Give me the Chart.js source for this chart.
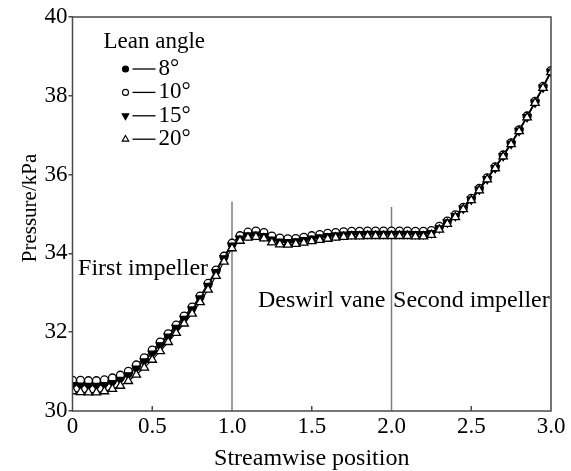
<!DOCTYPE html>
<html>
<head>
<meta charset="utf-8">
<script src="https://cdn.jsdelivr.net/npm/chart.js@4.4.1/dist/chart.umd.min.js"></script>
<style>
  html, body { margin: 0; padding: 0; background: #fff; }
  #wrap { width: 571px; height: 471px; }
</style>
</head>
<body>
<div id="wrap"><canvas id="c" width="571" height="471"></canvas></div>
<script>
// Streamwise positions of the sampled stations
const positions = [
  0.00, 0.05, 0.10, 0.15, 0.20, 0.25, 0.30, 0.35, 0.40, 0.45,
  0.50, 0.55, 0.60, 0.65, 0.70, 0.75, 0.80, 0.85, 0.90, 0.95,
  1.00, 1.05, 1.10, 1.15, 1.20, 1.25, 1.30, 1.35, 1.40, 1.45,
  1.50, 1.55, 1.60, 1.65, 1.70, 1.75, 1.80, 1.85, 1.90, 1.95,
  2.00, 2.05, 2.10, 2.15, 2.20, 2.25, 2.30, 2.35, 2.40, 2.45,
  2.50, 2.55, 2.60, 2.65, 2.70, 2.75, 2.80, 2.85, 2.90, 2.95,
  3.00
];

// Pressure (kPa) for each lean angle
const lean8 = [
  30.70, 30.70, 30.69, 30.69, 30.71, 30.76, 30.84, 30.95, 31.12, 31.30,
  31.50, 31.70, 31.92, 32.14, 32.37, 32.60, 32.88, 33.20, 33.55, 33.90,
  34.22, 34.40, 34.48, 34.50, 34.46, 34.37, 34.32, 34.31, 34.33, 34.36,
  34.40, 34.43, 34.46, 34.48, 34.50, 34.51, 34.51, 34.52, 34.52, 34.52,
  34.52, 34.52, 34.52, 34.51, 34.51, 34.54, 34.66, 34.80, 34.96, 35.15,
  35.38, 35.63, 35.90, 36.18, 36.48, 36.79, 37.12, 37.47, 37.84, 38.22,
  38.62
];
const lean10 = [
  30.78, 30.78, 30.77, 30.77, 30.79, 30.84, 30.91, 31.01, 31.17, 31.35,
  31.55, 31.75, 31.96, 32.18, 32.41, 32.64, 32.92, 33.24, 33.58, 33.93,
  34.26, 34.45, 34.54, 34.57, 34.53, 34.44, 34.39, 34.37, 34.38, 34.41,
  34.45, 34.48, 34.51, 34.53, 34.55, 34.56, 34.56, 34.57, 34.57, 34.57,
  34.57, 34.57, 34.57, 34.56, 34.56, 34.58, 34.69, 34.82, 34.98, 35.17,
  35.40, 35.65, 35.92, 36.20, 36.50, 36.81, 37.14, 37.49, 37.86, 38.24,
  38.64
];
const lean15 = [
  30.66, 30.65, 30.64, 30.64, 30.66, 30.71, 30.79, 30.91, 31.08, 31.26,
  31.46, 31.67, 31.89, 32.11, 32.34, 32.58, 32.86, 33.18, 33.53, 33.88,
  34.20, 34.38, 34.46, 34.48, 34.44, 34.35, 34.30, 34.29, 34.31, 34.34,
  34.38, 34.41, 34.44, 34.46, 34.48, 34.49, 34.49, 34.50, 34.50, 34.50,
  34.50, 34.50, 34.50, 34.49, 34.49, 34.52, 34.64, 34.79, 34.95, 35.14,
  35.37, 35.62, 35.89, 36.17, 36.47, 36.78, 37.11, 37.46, 37.83, 38.21,
  38.61
];
const lean20 = [
  30.50, 30.48, 30.47, 30.47, 30.50, 30.56, 30.64, 30.76, 30.92, 31.10,
  31.30, 31.52, 31.75, 31.98, 32.22, 32.47, 32.76, 33.08, 33.43, 33.79,
  34.13, 34.32, 34.40, 34.42, 34.38, 34.28, 34.23, 34.22, 34.24, 34.27,
  34.31, 34.34, 34.37, 34.40, 34.42, 34.43, 34.43, 34.44, 34.44, 34.44,
  34.44, 34.44, 34.44, 34.43, 34.43, 34.47, 34.60, 34.75, 34.92, 35.12,
  35.35, 35.60, 35.88, 36.16, 36.46, 36.77, 37.10, 37.45, 37.82, 38.20,
  38.60
];

const seriesLabels = ['8°', '10°', '15°', '20°'];
const legendTitle = 'Lean angle';
const xTickValues = [0, 0.5, 1.0, 1.5, 2.0, 2.5, 3.0];
const yTickValues = [30, 32, 34, 36, 38, 40];
const stageBoundaries = [1.0, 2.0];
const stageNames = ['First impeller', 'Deswirl vane', 'Second impeller'];
const yAxisTitle = 'Pressure/kPa';
const xAxisTitle = 'Streamwise position';

const SERIF = "'Liberation Serif', 'Times New Roman', serif";
const INK = '#000';
const FRAME = '#4a4a4a';

function pts(ys) { return positions.map((x, i) => ({ x: x, y: ys[i] })); }

const markerStyles = [
  { pointStyle: 'circle',   rotation: 0,   radius: 3.7, fill: '#000' },
  { pointStyle: 'circle',   rotation: 0,   radius: 3.9, fill: '#fff' },
  { pointStyle: 'triangle', rotation: 180, radius: 4.7, fill: '#000' },
  { pointStyle: 'triangle', rotation: 0,   radius: 4.9, fill: '#fff' }
];

const datasets = [lean8, lean10, lean15, lean20].map((ys, i) => ({
  label: seriesLabels[i],
  data: pts(ys),
  borderColor: INK,
  borderWidth: 1.1,
  backgroundColor: markerStyles[i].fill,
  pointStyle: markerStyles[i].pointStyle,
  pointRotation: markerStyles[i].rotation,
  pointRadius: markerStyles[i].radius,
  pointBorderColor: INK,
  pointBorderWidth: 1.3,
  pointBackgroundColor: markerStyles[i].fill,
  tension: 0,
  order: 4 - i
}));

// Draws a marker the same way the point element does
function drawMarker(ctx, style, x, y, r, fill) {
  ctx.save();
  ctx.beginPath();
  if (style.pointStyle === 'circle') {
    ctx.arc(x, y, r, 0, Math.PI * 2);
  } else {
    let rad = style.rotation * Math.PI / 180;
    const step = Math.PI * 2 / 3;
    for (let k = 0; k < 3; k++) {
      const px = x + Math.sin(rad) * r;
      const py = y - Math.cos(rad) * r;
      if (k === 0) ctx.moveTo(px, py); else ctx.lineTo(px, py);
      rad += step;
    }
  }
  ctx.closePath();
  ctx.fillStyle = fill;
  ctx.fill();
  ctx.strokeStyle = INK;
  ctx.lineWidth = 1.1;
  ctx.stroke();
  ctx.restore();
}

// Frame, inward x ticks, stage boundary lines, stage names, legend, y title
const decorations = {
  id: 'decorations',
  beforeDatasetsDraw(chart) {
    const { ctx, chartArea: a, scales: { x, y } } = chart;
    ctx.save();
    // stage boundaries
    ctx.strokeStyle = '#7d7d7d';
    ctx.lineWidth = 1.5;
    const tops = [35.31, 35.18];
    stageBoundaries.forEach((v, i) => {
      const px = x.getPixelForValue(v);
      ctx.beginPath();
      ctx.moveTo(px, y.getPixelForValue(tops[i]));
      ctx.lineTo(px, a.bottom);
      ctx.stroke();
    });
    // stage names
    ctx.fillStyle = INK;
    ctx.font = '24px ' + SERIF;
    ctx.textBaseline = 'middle';
    ctx.textAlign = 'left';
    ctx.fillText(stageNames[0], x.getPixelForValue(0.035), y.getPixelForValue(33.62));
    ctx.fillText(stageNames[1], x.getPixelForValue(1.163), y.getPixelForValue(32.81));
    ctx.fillText(stageNames[2], x.getPixelForValue(2.01), y.getPixelForValue(32.81));

    // vertical axis title, set slightly above the axis midpoint
    ctx.save();
    ctx.translate(30, (a.top + a.bottom) / 2 - 6);
    ctx.rotate(-Math.PI / 2);
    ctx.textAlign = 'center';
    ctx.font = '21px ' + SERIF;
    ctx.fillText(yAxisTitle, 0, 0);
    ctx.restore();
    ctx.restore();
  },
  afterDatasetsDraw(chart) {
    const { ctx, chartArea: a, scales: { x } } = chart;
    ctx.save();
    ctx.strokeStyle = FRAME;
    ctx.lineWidth = 1.5;
    ctx.strokeRect(a.left, a.top, a.right - a.left, a.bottom - a.top);
    ctx.beginPath();
    [0.5, 1.5, 2.5].forEach(v => {
      const px = x.getPixelForValue(v);
      ctx.moveTo(px, a.bottom);
      ctx.lineTo(px, a.bottom - 5);
    });
    ctx.stroke();

    // legend block
    const lx = a.left + 31, ty = a.top + 25;
    ctx.fillStyle = INK;
    ctx.font = '23px ' + SERIF;
    ctx.textBaseline = 'middle';
    ctx.textAlign = 'left';
    ctx.fillText(legendTitle, lx, ty);
    const rowGap = 23.4;
    const sizes = [3, 3, 3.8, 3.8];
    chart.data.datasets.forEach((ds, i) => {
      const ry = ty + 27 + i * rowGap;
      const mx = lx + 22;
      drawMarker(ctx, markerStyles[i], mx, ry, sizes[i], markerStyles[i].fill);
      ctx.strokeStyle = INK;
      ctx.lineWidth = 1.3;
      ctx.beginPath();
      ctx.moveTo(mx + 7, ry);
      ctx.lineTo(mx + 30, ry);
      ctx.stroke();
      ctx.fillStyle = INK;
      ctx.font = '23px ' + SERIF;
      ctx.fillText(ds.label, mx + 33, ry);
    });
    ctx.restore();
  }
};

new Chart(document.getElementById('c'), {
  type: 'line',
  data: { datasets: datasets },
  plugins: [decorations],
  options: {
    responsive: false,
    devicePixelRatio: 1,
    animation: false,
    layout: { padding: { top: 17, right: 20, left: 0, bottom: 0 } },
    plugins: { legend: { display: false }, tooltip: { enabled: false } },
    scales: {
      x: {
        type: 'linear',
        min: 0, max: 3,
        afterBuildTicks(scale) { scale.ticks = xTickValues.map(v => ({ value: v })); },
        afterFit(scale) { scale.height = 60; },
        ticks: {
          color: INK,
          font: { family: SERIF, size: 23 },
          padding: 2,
          maxRotation: 0,
          callback: v => (v === 0 ? '0' : Number(v).toFixed(1))
        },
        grid: { display: false, drawTicks: false },
        border: { display: false },
        title: {
          display: true,
          text: xAxisTitle,
          color: INK,
          font: { family: SERIF, size: 24 },
          padding: { top: 0, bottom: -2 }
        }
      },
      y: {
        min: 30, max: 40,
        afterBuildTicks(scale) { scale.ticks = yTickValues.map(v => ({ value: v })); },
        afterFit(scale) { scale.width = 72.5; },
        ticks: {
          color: INK,
          font: { family: SERIF, size: 23 },
          padding: 1
        },
        grid: {
          drawOnChartArea: false,
          drawTicks: true,
          tickLength: 4,
          color: FRAME,
          lineWidth: 1.5
        },
        border: { display: false }
      }
    }
  }
});
</script>
</body>
</html>
